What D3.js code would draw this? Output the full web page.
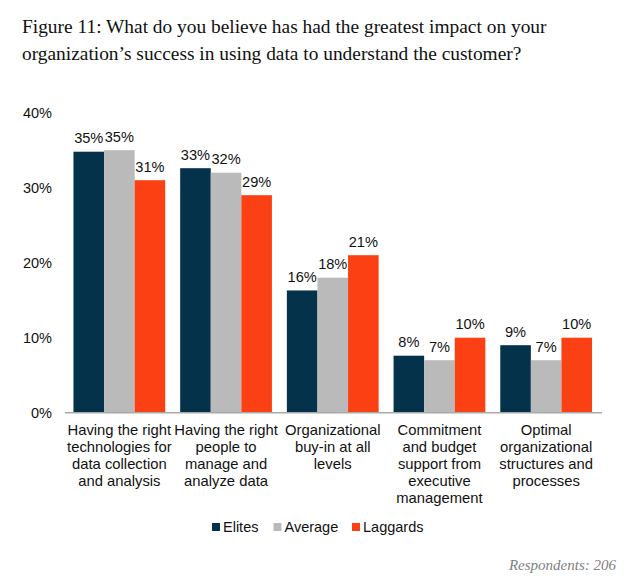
<!DOCTYPE html>
<html>
<head>
<meta charset="utf-8">
<script src="https://cdn.jsdelivr.net/npm/d3@7"></script>
<style>
  html, body { margin: 0; padding: 0; background: #fff; }
  svg { display: block; }
  text { font-family: "Liberation Sans", Arial, sans-serif; fill: #111; }
</style>
</head>
<body>
<svg id="chart"></svg>
<script>
const titleLines = [
  "Figure 11: What do you believe has had the greatest impact on your",
  "organization\u2019s success in using data to understand the customer?"
];
const categories = [
  ["Having the right", "technologies for", "data collection", "and analysis"],
  ["Having the right", "people to", "manage and", "analyze data"],
  ["Organizational", "buy-in at all", "levels"],
  ["Commitment", "and budget", "support from", "executive", "management"],
  ["Optimal", "organizational", "structures and", "processes"]
];
const seriesNames = ["Elites", "Average", "Laggards"];
const elites = [34.8, 32.6, 16.3, 7.6, 9];
const average = [35, 32, 18, 7, 7];
const laggards = [31, 29, 21, 10, 10];
const eliteLabels = ["35%", "33%", "16%", "8%", "9%"];
const averageLabels = ["35%", "32%", "18%", "7%", "7%"];
const laggardLabels = ["31%", "29%", "21%", "10%", "10%"];
const yTicks = [0, 10, 20, 30, 40];
const colors = ["#04324a", "#bababa", "#fb4113"];

const width = 637, height = 587;
const svg = d3.select("#chart").attr("width", width).attr("height", height);

// title
svg.append("g").selectAll("text")
  .data(titleLines)
  .join("text")
    .attr("x", 22)
    .attr("y", (d, i) => 33 + i * 27)
    .style("font-family", '"Liberation Serif", serif')
    .style("font-size", "19.4px")
    .text(d => d);

const y = d3.scaleLinear().domain([0, 40]).range([412.7, 112.7]);
const x0 = d3.scaleBand().domain(d3.range(categories.length)).range([66, 599.5]).paddingInner(0.14).paddingOuter(0.07);
const x1 = d3.scaleBand().domain(seriesNames).range([0, x0.bandwidth()]);

const rows = categories.map((c, i) => seriesNames.map((name, j) => ({
  cat: i,
  name,
  value: [elites, average, laggards][j][i],
  label: [eliteLabels, averageLabels, laggardLabels][j][i],
  color: colors[j]
})));

const groups = svg.append("g").selectAll("g")
  .data(rows)
  .join("g")
    .attr("transform", (d, i) => `translate(${x0(i)},0)`);

groups.selectAll("rect")
  .data(d => d)
  .join("rect")
    .attr("x", d => x1(d.name))
    .attr("y", d => y(d.value))
    .attr("width", x1.bandwidth())
    .attr("height", d => y(0) - y(d.value))
    .attr("fill", d => d.color);

groups.selectAll("text")
  .data(d => d)
  .join("text")
    .attr("x", d => x1(d.name) + x1.bandwidth() / 2)
    .attr("y", d => y(d.value) - 8.5)
    .attr("text-anchor", "middle")
    .style("font-size", "14.6px")
    .text(d => d.label);

// y axis, labels only
const yAxis = svg.append("g")
  .attr("transform", "translate(52,0)")
  .call(d3.axisLeft(y).tickValues(yTicks).tickFormat(d => d + "%").tickSize(0).tickPadding(0));
yAxis.select(".domain").remove();
yAxis.selectAll("text").style("font-size", "14.5px").style("font-family", '"Liberation Sans", Arial, sans-serif').attr("fill", "#111");

// baseline
const xAxis = svg.append("g")
  .attr("transform", `translate(0,${y(0)})`)
  .call(d3.axisBottom(x0).tickSize(0).tickFormat(""));
xAxis.select(".domain").attr("stroke", "#a9a9a9").attr("stroke-width", 1.5).attr("d", "M65,0H602");

// category labels
svg.append("g").selectAll("text")
  .data(categories)
  .join("text")
    .attr("text-anchor", "middle")
    .style("font-size", "14.8px")
    .selectAll("tspan")
    .data((d, i) => d.map((line, k) => ({ line, k, i })))
    .join("tspan")
      .attr("x", d => x0(d.i) + x0.bandwidth() / 2)
      .attr("y", d => 435 + d.k * 17)
      .text(d => d.line);

// legend
const legendX = [212, 273.5, 352];
const legend = svg.append("g").selectAll("g")
  .data(seriesNames)
  .join("g")
    .attr("transform", (d, i) => `translate(${legendX[i]},523)`);
legend.append("rect").attr("width", 8).attr("height", 8).attr("fill", (d, i) => colors[i]);
legend.append("text")
  .attr("x", 11)
  .attr("y", 9)
  .style("font-size", "14.5px")
  .text(d => d);

svg.append("text")
  .attr("x", 616)
  .attr("y", 570)
  .attr("text-anchor", "end")
  .style("font-family", '"Liberation Serif", serif')
  .style("font-style", "italic")
  .style("font-size", "15px")
  .style("fill", "#808080")
  .text("Respondents: 206");
</script>
</body>
</html>
